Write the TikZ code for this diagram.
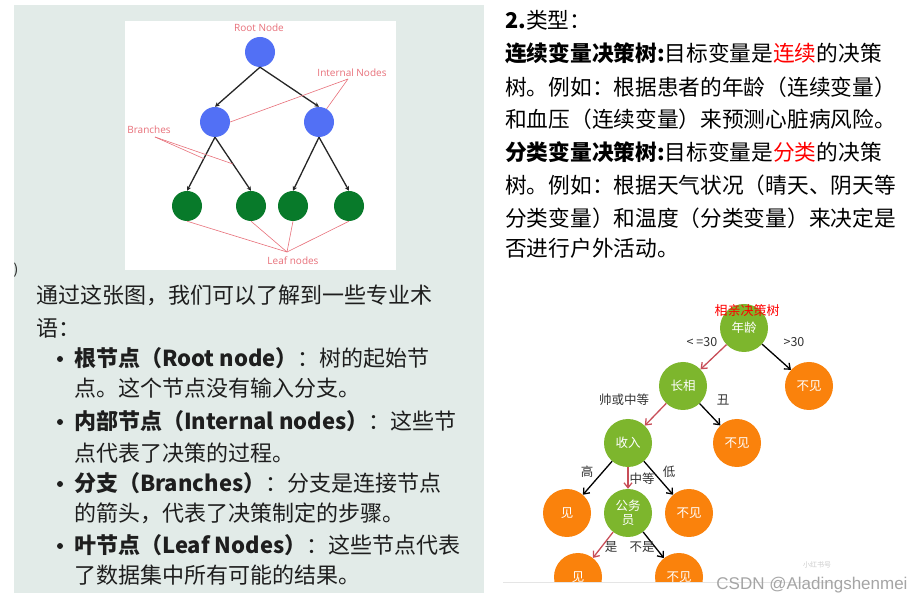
\documentclass[tikz,border=0pt]{standalone}
\usepackage{fontspec}
\setmainfont{Noto Sans CJK SC}
\newfontfamily\labfont{Open Sans}
\newfontfamily\wmfont{Liberation Sans}
\usetikzlibrary{arrows.meta,positioning,calc}
\definecolor{panelbg}{RGB}{226,235,232}
\definecolor{rootblue}{RGB}{82,112,245}
\definecolor{leafgreen}{RGB}{8,122,42}
\definecolor{labred}{RGB}{232,112,122}
\definecolor{appgreen}{RGB}{125,182,45}
\definecolor{apporange}{RGB}{250,130,12}
\definecolor{pathred}{RGB}{200,78,88}
\definecolor{inkgray}{RGB}{30,30,30}
\definecolor{wmgray}{RGB}{165,165,165}

\begin{document}
\begin{tikzpicture}[x=1pt,y=-1pt,
  bnode/.style={circle, fill=#1, minimum size=30pt, inner sep=0pt},
  tnode/.style={circle, fill=#1, minimum size=48pt, inner sep=0pt, text=white,
    font=\fontsize{12.5}{13.5}\selectfont, align=center},
  arr/.style={-{Stealth[length=4.5pt,width=4.5pt]}, line width=1.3pt, black!85},
  tarr/.style={-{Straight Barb[length=5pt,width=8pt]}, line width=1.3pt, #1},
  pin/.style={labred, line width=0.6pt},
  lab/.style={text=labred, font=\labfont\fontsize{10}{12}\selectfont, inner sep=1pt},
  line/.style={anchor=west, inner sep=0pt, text=inkgray, font=\fontsize{22}{26}\selectfont},
  dot/.style={circle, fill=inkgray, minimum size=6pt, inner sep=0pt},
  rline/.style={anchor=west, inner sep=0pt, font=\fontsize{21.7}{26}\selectfont},
  elab/.style={inner sep=1pt, text=black!80, font=\fontsize{12.5}{14}\selectfont}
]
\useasboundingbox (0,0) rectangle (911,601);
\fill[white] (0,0) rectangle (911,601);

% left panel
\fill[panelbg] (14,5) rectangle (484,593);
\fill[white] (125,21) rectangle (396,270);
\node[inner sep=0pt, text=inkgray, font=\fontsize{14}{16}\selectfont] (paren) at (16,270) {)};

\node[bnode=rootblue] (root) at (260,52) {};
\node[bnode=rootblue] (in1) at (215,122) {};
\node[bnode=rootblue] (in2) at (319,122) {};
\node[bnode=leafgreen] (lf1) at (187,206) {};
\node[bnode=leafgreen] (lf2) at (251,206) {};
\node[bnode=leafgreen] (lf3) at (293,206) {};
\node[bnode=leafgreen] (lf4) at (349,206) {};

\draw[arr] (root.south) -- (in1.north);
\draw[arr] (root.south) -- (in2.north);
\draw[arr] (in1.south) -- (lf1.north);
\draw[arr] (in1.south) -- (lf2.north);
\draw[arr] (in2.south) -- (lf3.north);
\draw[arr] (in2.south) -- (lf4.north);

\node[lab] (rootlab) at (259,28) {Root Node};
\node[lab] (inlab) at (352,73) {Internal Nodes};
\node[lab] (brlab) at (149,130) {Branches};
\node[lab] (lflab) at (293,261) {Leaf nodes};

\coordinate (inhub) at (348,79);
\coordinate (brhub) at (155,137);
\coordinate (lfhub) at (287,252);
\draw[pin] (inhub) -- (in1.east);
\draw[pin] (inhub) -- (in2.60);
\draw[pin] (brhub) -- ($(in1.south)!0.4!(lf1.north)$);
\draw[pin] (brhub) -- ($(in1.south)!0.5!(lf2.north)$);
\foreach \n in {lf1,lf2,lf3,lf4}
  \draw[pin] (lfhub) -- (\n.south);

% terms
\node[line] (t1) at (36,295) {通过这张图，我们可以了解到一些专业术};
\node[line] (t2) at (36,328) {语：};
\foreach \y/\nm in {359/b1,422/b2,484/b3,546/b4}
  \node[dot] (\nm) at (60,\y) {};
\node[line] (t3) at (74,358) {\textbf{根节点（Root node）}：树的起始节};
\node[line] (t4) at (74,388) {点。这个节点没有输入分支。};
\node[line] (t5) at (74,421) {\textbf{内部节点（Internal nodes）}：这些节};
\node[line] (t6) at (74,453) {点代表了决策的过程。};
\node[line] (t7) at (74,483) {\textbf{分支（Branches）}：分支是连接节点};
\node[line] (t8) at (74,513) {的箭头，代表了决策制定的步骤。};
\node[line] (t9) at (74,545) {\textbf{叶节点（Leaf Nodes）}：这些节点代表};
\node[line] (t10) at (74,575) {了数据集中所有可能的结果。};

% types
\node[rline] (r1) at (505,20) {\textbf{2.}类型：};
\node[rline] (r2) at (505,53) {\textbf{连续变量决策树:}目标变量是\textcolor{red}{连续}的决策};
\node[rline] (r3) at (505,87) {树。例如：根据患者的年龄（连续变量）};
\node[rline] (r4) at (505,119) {和血压（连续变量）来预测心脏病风险。};
\node[rline] (r5) at (505,152) {\textbf{分类变量决策树:}目标变量是\textcolor{red}{分类}的决策};
\node[rline] (r6) at (505,185) {树。例如：根据天气状况（晴天、阴天等};
\node[rline] (r7) at (505,218) {分类变量）和温度（分类变量）来决定是};
\node[rline] (r8) at (505,248) {否进行户外活动。};

% dating tree
\begin{scope}
\clip (500,280) rectangle (911,582);
\node[tnode=appgreen] (age) at (744,328) {年龄};
\node[tnode=appgreen] (look) at (683,386) {长相};
\node[tnode=apporange] (no1) at (809,386) {不见};
\node[tnode=appgreen] (income) at (628,443) {收入};
\node[tnode=apporange] (no2) at (737,443) {不见};
\node[tnode=apporange] (yes1) at (567,513) {见};
\node[tnode=appgreen] (civil) at (628,513) {公务\\员};
\node[tnode=apporange] (no3) at (689,513) {不见};
\node[tnode=apporange] (yes2) at (578,577) {见};
\node[tnode=apporange] (no4) at (679,577) {不见};

\draw[tarr=pathred] (age) -- (look);
\draw[tarr=black] (age) -- (no1);
\draw[tarr=pathred] (look) -- (income);
\draw[tarr=black] (look) -- (no2);
\draw[tarr=black] (income) -- (yes1);
\draw[tarr=pathred] (income) -- (civil);
\draw[tarr=black] (income) -- (no3);
\draw[tarr=pathred] (civil) -- (yes2);
\draw[tarr=black] (civil) -- (no4);
\end{scope}

\node[text=red, inner sep=0pt, font=\fontsize{13}{15}\selectfont] (title) at (747,311) {相亲决策树};
\node[elab] (e1) at (702,342) {< =30};
\node[elab] (e2) at (794,342) {>30};
\node[elab] (e3) at (624,400) {帅或中等};
\node[elab] (e4) at (723,400) {丑};
\node[elab] (e5) at (587,472) {高};
\node[elab] (e6) at (642,479) {中等};
\node[elab] (e7) at (669,472) {低};
\node[elab] (e8) at (611,547) {是};
\node[elab] (e9) at (642,547) {不是};

\draw[black!10] (503,582) -- (835,582);
\node[text=black!20, font=\fontsize{7}{8}\selectfont] (xhs) at (817,565) {小红书号};
\node[text=wmgray, font=\wmfont\fontsize{17}{19}\selectfont] (csdn) at (812,585) {CSDN @Aladingshenmei};
\end{tikzpicture}
\end{document}
